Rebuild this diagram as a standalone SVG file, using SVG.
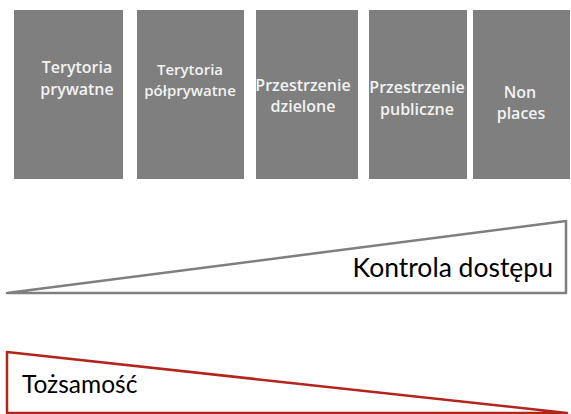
<svg xmlns="http://www.w3.org/2000/svg" width="571" height="414" viewBox="0 0 571 414">
<style>
.box{fill:#7f7f7f}
.bt{fill:#f2f2f2;font-family:"Open Sans",Lato,sans-serif;font-weight:600;font-size:16px;text-anchor:middle}
.lbl{fill:#000;font-family:Lato,"Open Sans",sans-serif;font-size:24px}
</style>
<rect width="571" height="414" fill="#fff"/>
<g id="n1"><rect class="box" x="14" y="10" width="109" height="169"/><text class="bt" x="77" y="73">Terytoria</text><text class="bt" x="77" y="95">prywatne</text></g>
<g id="n2"><rect class="box" x="137" y="10" width="107" height="169"/><text class="bt" x="190" y="75" style="font-size:15px">Terytoria</text><text class="bt" x="190" y="96" style="font-size:15px">półprywatne</text></g>
<g id="n3"><rect class="box" x="256" y="10" width="102" height="169"/><text class="bt" x="303" y="91">Przestrzenie</text><text class="bt" x="303" y="112">dzielone</text></g>
<g id="n4"><rect class="box" x="369" y="10" width="98" height="169"/><text class="bt" x="417" y="93">Przestrzenie</text><text class="bt" x="417" y="115">publiczne</text></g>
<g id="n5"><rect class="box" x="473" y="10" width="97" height="169"/><text class="bt" x="520" y="98">Non</text><text class="bt" x="521" y="119">places</text></g>
<g id="access"><polygon points="7,293 566,221 566,293" fill="#fff" stroke="#7f7f7f" stroke-width="2.5" stroke-linejoin="round"/><text class="lbl" x="553" y="277" text-anchor="end" style="font-size:26.5px">Kontrola dostępu</text></g>
<g id="identity"><polygon points="7,352 567,413 7,413" fill="#fff" stroke="#b3251c" stroke-width="2.5" stroke-linejoin="round"/><text class="lbl" x="22" y="393" style="font-size:24.5px">Tożsamość</text></g>
<g id="connectors"/>
</svg>
